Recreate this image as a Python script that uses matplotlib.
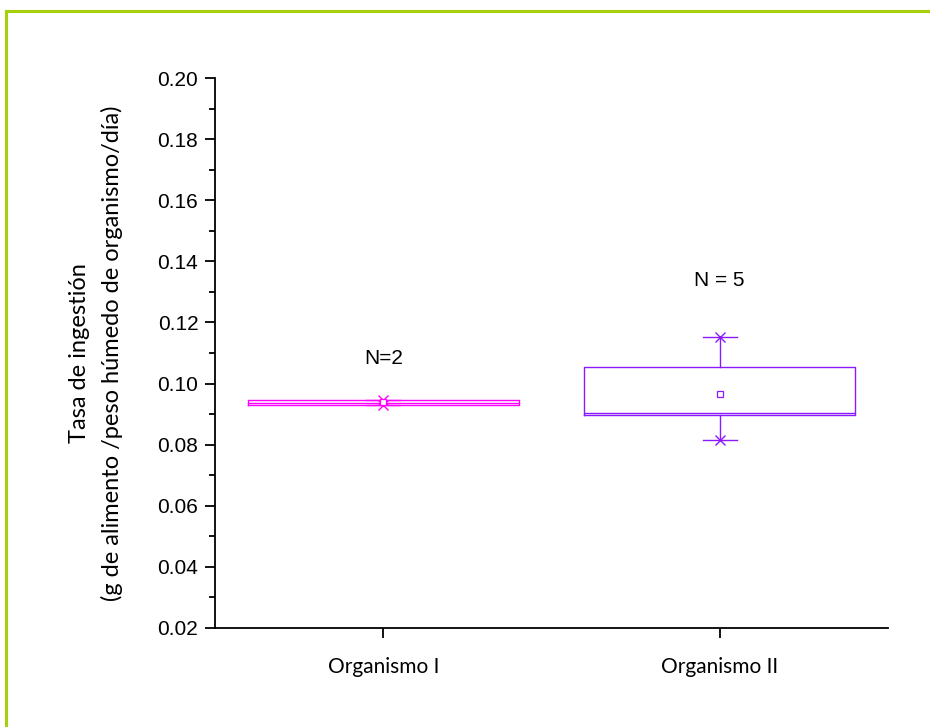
import matplotlib
matplotlib.use('Agg')
import matplotlib.pyplot as plt
from matplotlib.lines import Line2D
from matplotlib.ticker import MultipleLocator, FormatStrFormatter

# values
groups = ['Organismo I', 'Organismo II']
n_labels = ['N=2', 'N = 5']
q1 = [0.0930, 0.0897]
median = [0.0935, 0.0905]
q3 = [0.0947, 0.1053]
whis_lo = [0.0930, 0.0815]
whis_hi = [0.0945, 0.1152]
means = [0.0938, 0.0966]
label_y = [0.1083, 0.1336]
colors = ['#FF00FF', '#8C1AFF']

fig = plt.figure(figsize=(9.3, 7.27), dpi=100)
ax = fig.add_axes([0.2312, 0.1362, 0.7236, 0.7565])

stats = []
for i in range(len(groups)):
    stats.append({'q1': q1[i], 'med': median[i], 'q3': q3[i],
                  'whislo': whis_lo[i], 'whishi': whis_hi[i],
                  'mean': means[i], 'fliers': []})

positions = list(range(1, len(groups) + 1))
for i, st in enumerate(stats):
    c = colors[i]
    ax.bxp([st], positions=[positions[i]], widths=0.806, capwidths=0.1,
           showmeans=True, showfliers=False,
           boxprops=dict(color=c, linewidth=1.0),
           medianprops=dict(color=c, linewidth=1.0),
           whiskerprops=dict(color=c, linewidth=1.0),
           capprops=dict(color=c, linewidth=1.0),
           meanprops=dict(marker='s', markerfacecolor='white', markeredgecolor=c,
                          markersize=5, markeredgewidth=0.9))
    ax.plot([positions[i], positions[i]], [whis_lo[i], whis_hi[i]], ls='none',
            marker='x', color=c, markersize=7, mew=1.0)
    ax.text(positions[i], label_y[i], n_labels[i], ha='center', va='center',
            fontsize=15, family='Liberation Sans')

ax.set_xlim(0.5, 2.5)
ax.set_ylim(0.02, 0.20)
ax.set_xticks(positions)
ax.set_xticklabels(groups, family='Lato', fontsize=15)
ax.yaxis.set_major_locator(MultipleLocator(0.02))
ax.yaxis.set_minor_locator(MultipleLocator(0.01))
ax.yaxis.set_major_formatter(FormatStrFormatter('%.2f'))
for lab in ax.get_yticklabels():
    lab.set_family('Liberation Sans')
    lab.set_fontsize(15)
ax.tick_params(axis='both', which='major', length=7, width=1.3, direction='out', pad=5)
ax.tick_params(axis='y', which='minor', length=4, width=1.3, direction='out')
ax.tick_params(axis='x', pad=14)
ax.spines['top'].set_visible(False)
ax.spines['right'].set_visible(False)
ax.spines['left'].set_linewidth(1.3)
ax.spines['bottom'].set_linewidth(1.3)

ax.set_ylabel('Tasa de ingestión\n(g de alimento /peso húmedo de organismo/día)',
              family='Lato', fontsize=17, labelpad=25, linespacing=1.6)

# green frame
green = '#A6D10A'
fig.add_artist(Line2D([6 / 930, 1], [1 - 11 / 727, 1 - 11 / 727], color=green, lw=2.2,
                      transform=fig.transFigure))
fig.add_artist(Line2D([6 / 930, 6 / 930], [0, 1 - 11 / 727], color=green, lw=2.2,
                      transform=fig.transFigure))

fig.savefig('out.png', dpi=100)
